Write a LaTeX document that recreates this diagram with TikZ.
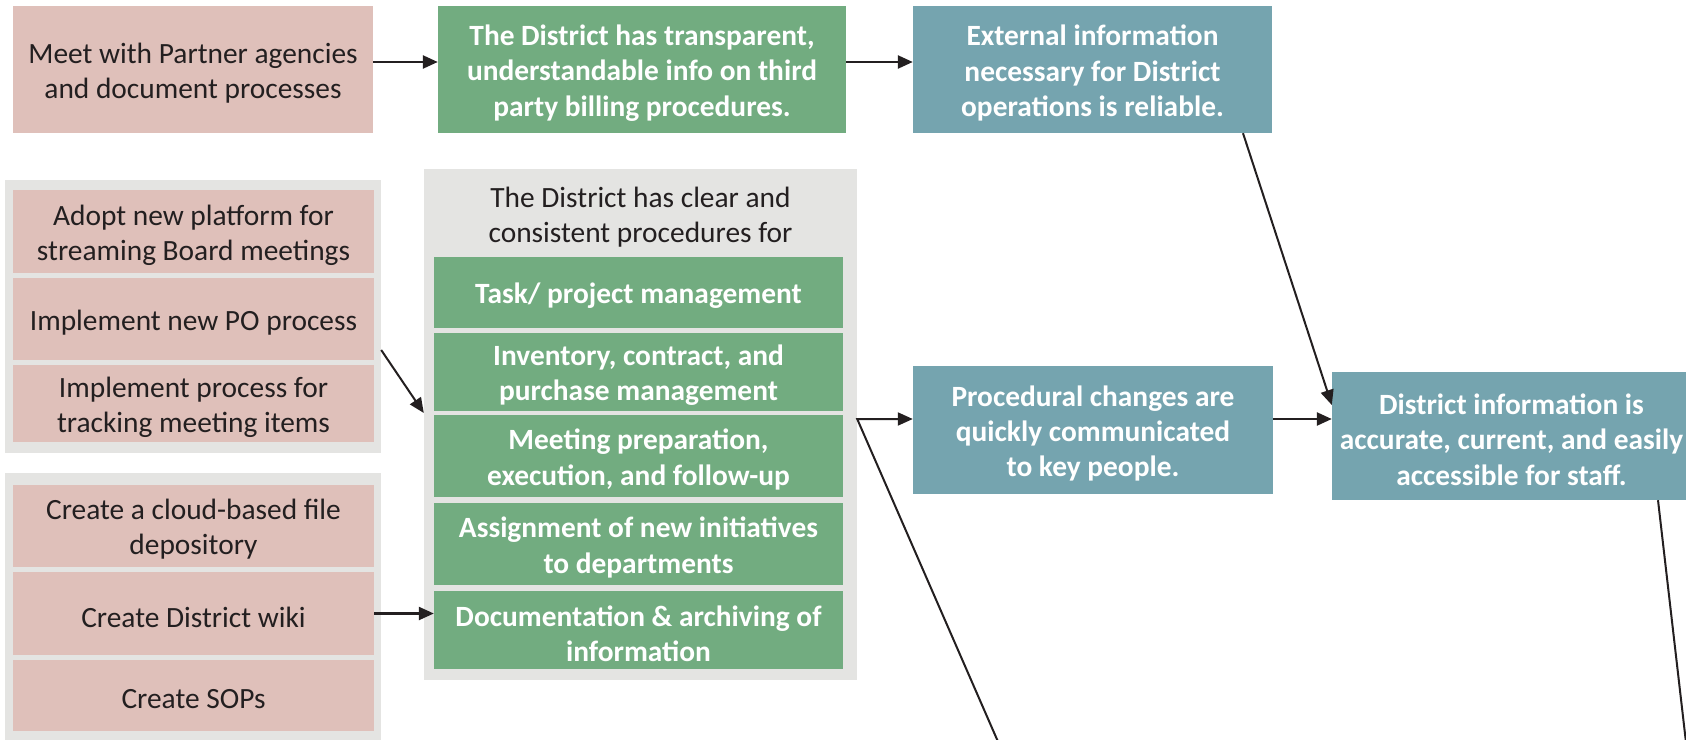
\documentclass[tikz,border=0pt]{standalone}
\usepackage{fontspec}
\setmainfont{Carlito}
\usetikzlibrary{arrows.meta}
\definecolor{actpink}{HTML}{DFC0BA}
\definecolor{goalgreen}{HTML}{72AC80}
\definecolor{outteal}{HTML}{75A4AF}
\definecolor{panelgray}{HTML}{E4E4E2}
\definecolor{inkc}{HTML}{231F20}
\newcommand{\boxfont}{\fontsize{29.4}{35.3}\selectfont}
% a filled cell (#1 style, #2 name, #3/#4 centre, #5/#6 size) and its caption #7
\newcommand{\cellbox}[7]{%
  \node[#1, minimum width=#5pt, minimum height=#6pt] (#2) at (#3,#4) {};
  \node[#1 text] (#2-t) at ([yshift=-3.5pt]#2.center) {#7};
}
\begin{document}
\begin{tikzpicture}[x=1pt,y=-1pt,
  cell/.style={rectangle, inner sep=0pt, draw=none},
  act/.style={cell, fill=actpink},
  goal/.style={cell, fill=goalgreen},
  outc/.style={cell, fill=outteal},
  caption/.style={inner sep=0pt, align=center, font=\boxfont},
  act text/.style={caption, text=inkc},
  goal text/.style={caption, text=white, font=\boxfont\bfseries},
  outc text/.style={caption, text=white, font=\boxfont\bfseries},
  panel/.style={rectangle, fill=panelgray, inner sep=0pt},
  link/.style={draw=inkc, line width=2.4pt,
    -{Triangle[length=15pt,width=13pt]}},
  thinlink/.style={draw=inkc, line width=2pt,
    -{Triangle[length=15pt,width=13pt]}},
  plain/.style={draw=inkc, line width=2pt},
]
\useasboundingbox (0,0) rectangle (1686,739);

% top row
\cellbox{act}{partner}{193}{69.5}{360}{127}
  {Meet with Partner agencies\\and document processes}
\cellbox{goal}{transp}{642}{69.5}{408}{127}
  {The District has transparent,\\understandable info on third\\party billing procedures.}
\cellbox{outc}{ext}{1092.5}{69.5}{359}{127}
  {External information\\necessary for District\\operations is reliable.}

% first group of activities
\node[panel, minimum width=376pt, minimum height=273pt] (g1panel) at (193,316.5) {};
\cellbox{act}{adopt}{193.5}{231.5}{361}{83}
  {Adopt new platform for\\streaming Board meetings}
\cellbox{act}{po}{193.5}{319}{361}{82}
  {Implement new PO process}
\cellbox{act}{trackp}{193.5}{403.5}{361}{77}
  {Implement process for\\tracking meeting items}

% second group of activities
\node[panel, minimum width=376pt, minimum height=287pt] (g2panel) at (193,616.5) {};
\cellbox{act}{cloud}{193.5}{526}{361}{82}
  {Create a cloud-based file\\depository}
\cellbox{act}{wiki}{193.5}{613.5}{361}{83}
  {Create District wiki}
\cellbox{act}{sops}{193.5}{695.5}{361}{71}
  {Create SOPs}

% procedures panel
\node[panel, minimum width=433pt, minimum height=511pt] (cpanel) at (640.5,424.5) {};
\node[act text] (phead) at (640.5,217)
  {The District has clear and\\consistent procedures for};
\cellbox{goal}{task}{638.5}{292.5}{409}{71}
  {Task/ project management}
\cellbox{goal}{inv}{638.5}{372}{409}{78}
  {Inventory, contract, and\\purchase management}
\cellbox{goal}{meet}{638.5}{456}{409}{82}
  {Meeting preparation,\\execution, and follow-up}
\cellbox{goal}{assign}{638.5}{544}{409}{82}
  {Assignment of new initiatives\\to departments}
\cellbox{goal}{doc}{638.5}{630}{409}{78}
  {Documentation \& archiving of\\information}

% outcomes
\cellbox{outc}{proc}{1093}{430}{360}{128}
  {Procedural changes are\\quickly communicated\\to key people.}
\cellbox{outc}{dist}{1511.5}{436}{359}{128}
  {District information is\\accurate, current, and easily\\accessible for staff.}

% free ends of connectors leaving the page
\coordinate (offA) at (1006,760);
\coordinate (offB) at (1688,760);

% connectors
\draw[link] ([yshift=7.5pt]partner.east) -- ([yshift=7.5pt]transp.west);
\draw[link] ([yshift=7.5pt]transp.east) -- ([yshift=7.5pt]ext.west);
\draw[thinlink] ([yshift=-33.5pt]g1panel.east) -- ([yshift=11.5pt]cpanel.west);
\draw[link] (wiki.east) -- (wiki.east -| doc.west);
\draw[thinlink] (offA) -- ([yshift=5.5pt]cpanel.east) -- ([yshift=11pt]proc.west);
\draw[link] ([yshift=11pt]proc.east) -- ([yshift=17pt]dist.west);
\draw[thinlink] ([xshift=150.5pt]ext.south) -- ([yshift=31pt]dist.west);
\draw[plain] ([xshift=146.5pt]dist.south) -- (offB);
\end{tikzpicture}
\end{document}
